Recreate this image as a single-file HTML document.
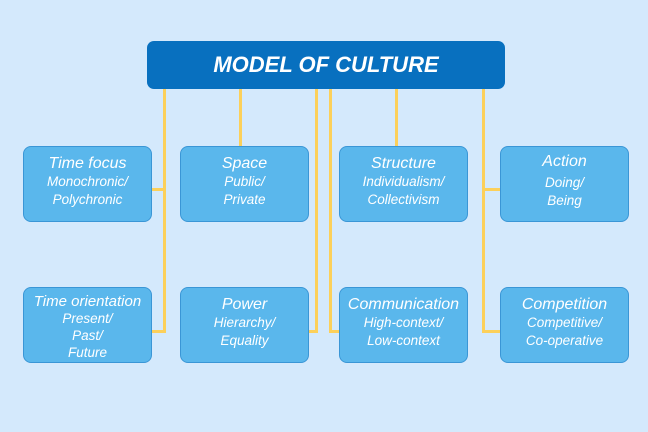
<!DOCTYPE html>
<html><head><style>
body{margin:0;width:648px;height:432px;background:#d4e9fc;position:relative;overflow:hidden;font-family:"Liberation Sans",sans-serif;font-style:italic;color:#fff}
.t{position:absolute;left:147px;top:41px;width:358px;height:48px;background:#0870bf;border-radius:7px;font-size:22px;font-weight:bold;text-align:center;line-height:48px}
.l{position:absolute;background:#fcd05a}
.b{position:absolute;width:127px;height:74px;background:#5ab7ec;border:1px solid #3a96d6;border-radius:8px;text-align:center;box-sizing:content-box}
.b .h{font-size:16px;margin-top:7px;line-height:19px}
.b .s{font-size:13.5px;line-height:18px}
</style></head><body>
<div class="l" style="left:163px;top:89px;width:3px;height:244px"></div>
<div class="l" style="left:152px;top:188px;width:13px;height:3px"></div>
<div class="l" style="left:152px;top:330px;width:13px;height:3px"></div>
<div class="l" style="left:239px;top:89px;width:3px;height:58px"></div>
<div class="l" style="left:315px;top:89px;width:3px;height:244px"></div>
<div class="l" style="left:309px;top:330px;width:8px;height:3px"></div>
<div class="l" style="left:329px;top:89px;width:3px;height:244px"></div>
<div class="l" style="left:329px;top:330px;width:11px;height:3px"></div>
<div class="l" style="left:395px;top:89px;width:3px;height:58px"></div>
<div class="l" style="left:482px;top:89px;width:3px;height:244px"></div>
<div class="l" style="left:482px;top:188px;width:19px;height:3px"></div>
<div class="l" style="left:482px;top:330px;width:19px;height:3px"></div>
<div class="t">MODEL OF CULTURE</div>
<div class="b" style="left:23px;top:146px"><div class="h">Time focus</div><div class="s">Monochronic/<br>Polychronic</div></div>
<div class="b" style="left:180px;top:146px"><div class="h">Space</div><div class="s">Public/<br>Private</div></div>
<div class="b" style="left:339px;top:146px"><div class="h">Structure</div><div class="s">Individualism/<br>Collectivism</div></div>
<div class="b" style="left:500px;top:146px"><div class="h" style="margin-top:5px">Action</div><div class="s" style="margin-top:3px">Doing/<br>Being</div></div>
<div class="b" style="left:23px;top:287px"><div class="h" style="font-size:15px;margin-top:5px;line-height:17px">Time orientation</div><div class="s" style="line-height:17px">Present/<br>Past/<br>Future</div></div>
<div class="b" style="left:180px;top:287px"><div class="h">Power</div><div class="s">Hierarchy/<br>Equality</div></div>
<div class="b" style="left:339px;top:287px"><div class="h">Communication</div><div class="s">High-context/<br>Low-context</div></div>
<div class="b" style="left:500px;top:287px"><div class="h">Competition</div><div class="s">Competitive/<br>Co-operative</div></div>
</body></html>
